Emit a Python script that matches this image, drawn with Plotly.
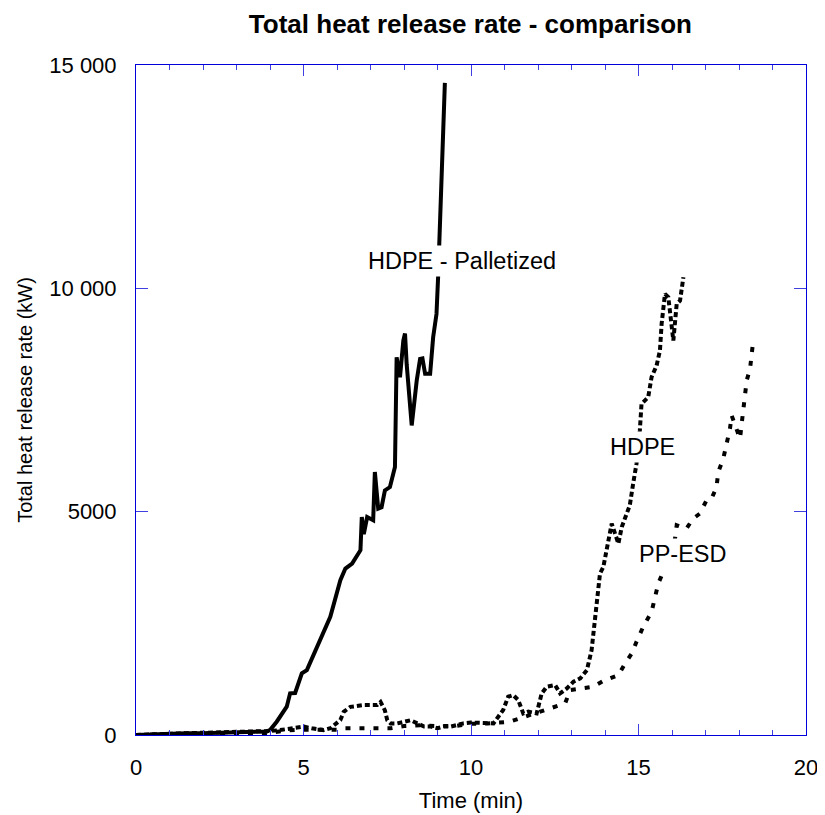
import plotly.graph_objects as go

# ---- data ----
pal_t = [0, 0.5, 1, 1.5, 2, 2.5, 3, 3.5, 3.9, 4.0, 4.2, 4.5, 4.6, 4.75, 4.95, 5.1, 5.4, 5.55, 5.8, 6.1,
         6.25, 6.45, 6.7, 6.74, 6.8, 6.9, 7.08, 7.13, 7.23, 7.33, 7.43, 7.58, 7.73, 7.78, 7.88, 7.98,
         8.03, 8.08, 8.23, 8.38, 8.48, 8.55, 8.63, 8.78, 8.82, 8.87, 8.97, 9.02, 9.22]
pal_y = [0, 20, 30, 40, 40, 50, 60, 60, 80, 112, 298, 633, 932, 940, 1380, 1453, 1975, 2200, 2645, 3465,
         3726, 3838, 4136, 4880, 4500, 4880, 4807, 5887, 5068, 5100, 5477, 5551, 5998, 8457, 8010, 8830,
         8987, 8300, 6930, 7937, 8420, 8430, 8086, 8086, 8532, 8905, 9427, 10283, 14600]

hdpe_t = [0, 0.5, 1.0, 1.5, 2.0, 2.5, 3.0, 3.5, 4.0, 4.3, 4.7, 5.0, 5.25, 5.6, 5.8, 6.0, 6.1, 6.2, 6.4,
          6.8, 7.2, 7.3, 7.43, 7.5, 7.6, 7.8, 8.0, 8.2, 8.4, 8.6, 8.8, 9.0, 9.2, 9.4, 9.77, 10.0, 10.67,
          10.96, 11.11, 11.26, 11.41, 11.56, 11.71, 11.96, 12.11, 12.26, 12.51, 12.66, 12.86, 13.06,
          13.26, 13.46, 13.6, 13.65, 13.75, 13.85, 13.95, 14.1, 14.2, 14.3, 14.4, 14.5, 14.65, 14.74,
          14.84, 14.94, 15.04, 15.09, 15.29, 15.39, 15.54, 15.64, 15.69, 15.79, 15.89, 16.04, 16.14,
          16.24, 16.34]
hdpe_y = [0, 20, 30, 40, 50, 60, 70, 60, 90, 110, 150, 190, 150, 110, 150, 260, 335, 520, 630,
          670, 670, 740, 550, 330, 260, 260, 300, 330, 260, 190, 190, 150, 190, 190, 260, 280, 261,
          559, 857, 894, 782, 484, 522, 484, 931, 1081, 1118, 931, 1043, 1193,
          1267, 1453, 1900, 2273, 3018, 3614, 3763, 4285, 4732, 4508, 4285, 4657, 4956, 5142,
          5626, 6073, 6819, 7415, 7564, 8011, 8272, 8607, 9204, 9875, 9800, 8831, 9650,
          9725, 10247]

pp_t = [0, 0.5, 1, 1.5, 2, 2.5, 3, 3.5, 4, 4.5, 5, 5.5, 6, 6.2, 6.8, 7.2, 7.6, 8.0, 8.5, 9.0, 9.5,
        10.0, 10.5, 11.16, 11.61, 12.06, 12.46, 12.81, 12.96, 13.36, 13.65, 14.0, 14.4, 14.6, 14.8,
        14.94, 15.14, 15.39, 15.49, 15.59, 15.76, 16.09, 16.14, 16.43, 16.63, 16.83, 17.03, 17.18,
        17.33, 17.38, 17.53, 17.63, 17.73, 17.78, 17.93, 18.03, 18.08, 18.13, 18.18, 18.23, 18.33,
        18.38, 18.43]
pp_y = [0, 10, 20, 30, 20, 40, 30, 0, 50, 100, 120, 130, 120, 150, 150, 150, 150, 200, 220, 200, 200,
        250, 260, 298, 410, 522, 633, 708, 1006, 1043, 1081, 1230, 1341, 1602, 1826,
        2087, 2422, 2757, 3056, 3391, 3689, 4397, 4695, 4620, 4844, 4956, 5254, 5291,
        5552, 5887, 6185, 6521, 6856, 7154, 6856, 6633, 6968, 7303, 7601, 7937, 8198,
        8496, 8868]

y_tickvals = [0, 5000, 10000, 15000]
y_ticktext = ["0", "5000", "10 000", "15 000"]
x_tickvals = [0, 5, 10, 15, 20]

labels = ["HDPE - Palletized", "HDPE", "PP-ESD"]
label_t = [9.72, 15.12, 16.34]
label_y = [10619, 6445, 4062]

FONT = "Liberation Sans, Arial, sans-serif"
AXIS_BLUE = "#0000dd"
TICK_BLUE = "#4040e0"

fig = go.Figure()
fig.add_trace(go.Scatter(x=pal_t, y=pal_y, mode="lines", name=labels[0],
                         line=dict(color="black", width=4)))
fig.add_trace(go.Scatter(x=hdpe_t, y=hdpe_y, mode="lines", name=labels[1],
                         line=dict(color="black", width=4, dash="5px,3px")))
fig.add_trace(go.Scatter(x=pp_t, y=pp_y, mode="lines", name=labels[2],
                         line=dict(color="black", width=4, dash="5px,9px")))

for txt, tx, ty in zip(labels, label_t, label_y):
    fig.add_annotation(x=tx, y=ty, text=txt, showarrow=False,
                       font=dict(family=FONT, size=23.5, color="black"),
                       bgcolor="white", borderpad=2)

# page has an 8px body margin, so the figure is sized/offset to compensate
fig.update_layout(
    width=817, height=807,
    margin=dict(l=128, r=19, t=57, b=80, autoexpand=False),
    paper_bgcolor="white", plot_bgcolor="white",
    showlegend=False,
    font=dict(family=FONT, size=22, color="black"),
    title=dict(text="<b>Total heat release rate - comparison</b>",
               x=0.566, xanchor="center", y=0.9808, yanchor="middle",
               yref="container",
               font=dict(family=FONT, size=26, color="black")),
)
fig.update_xaxes(
    range=[0, 20], tickvals=x_tickvals, showgrid=False, zeroline=False,
    showline=True, linecolor=AXIS_BLUE, linewidth=1, mirror="ticks",
    ticks="inside", ticklen=11, tickcolor=TICK_BLUE, tickwidth=1,
    minor=dict(ticks="inside", ticklen=5, dtick=1, tickcolor=TICK_BLUE, tickwidth=1, showgrid=False),
    ticklabelstandoff=13,
    title=dict(text="Time (min)", font=dict(family=FONT, size=22), standoff=13),
    tickfont=dict(family=FONT, size=22),
)
fig.update_yaxes(
    range=[0, 15000], tickvals=y_tickvals, ticktext=y_ticktext, showgrid=False, zeroline=False,
    showline=True, linecolor=AXIS_BLUE, linewidth=1, mirror="ticks",
    ticks="inside", ticklen=12, tickcolor=TICK_BLUE, tickwidth=1,
    ticklabelstandoff=14,
    title=dict(text="Total heat release rate (kW)", font=dict(family=FONT, size=20), standoff=11),
    tickfont=dict(family=FONT, size=22),
)

fig.write_html("out.html")
